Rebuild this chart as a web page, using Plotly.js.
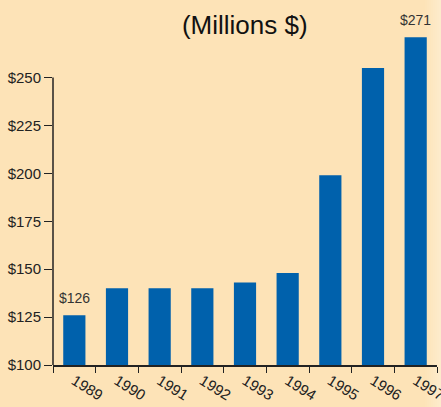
<!DOCTYPE html>
<html>
<head>
<meta charset="utf-8">
<script src="https://cdn.plot.ly/plotly-3.0.1.min.js"></script>
<style>html,body{margin:0;padding:0;background:#FDE3B7;}</style>
</head>
<body>
<div id="chart" style="width:441px;height:407px;"></div>
<script>
const years = ['1989','1990','1991','1992','1993','1994','1995','1996','1997'];
const values = [126, 140, 140, 140, 143, 148, 199, 255, 271];
const yTicks = [100, 125, 150, 175, 200, 225, 250];
const labelled = [0, values.length - 1];

const trace = {
  type: 'bar',
  x: years,
  y: values,
  marker: {color: '#0061AC'},
  hoverinfo: 'none'
};

const valueNotes = labelled.map(i => ({
  x: i, y: values[i], xref: 'x', yref: 'y',
  text: '$' + values[i], showarrow: false,
  yanchor: 'bottom', yshift: 7,
  font: {family: 'Liberation Sans, Arial, sans-serif', size: 14, color: '#333'}
}));

// light fade at the right edge of the picture
const fade = [];
const plotL = 53, plotW = 384;
for (let i = 0; i < 8; i++) {
  const px0 = 425 + i * 2;
  fade.push({
    type: 'rect', xref: 'paper', yref: 'paper', layer: 'below',
    x0: (px0 - plotL) / plotW, x1: (px0 + 2 - plotL) / plotW + (i === 7 ? 0.02 : 0),
    y0: -0.2, y1: 1.1,
    fillcolor: 'rgba(255,255,255,' + (0.04 + i * 0.035) + ')', line: {width: 0}
  });
}

const layout = {
  width: 441,
  height: 407,
  margin: {l: 53, r: 4, t: 20, b: 42},
  paper_bgcolor: '#FDE3B7',
  plot_bgcolor: 'rgba(0,0,0,0)',
  bargap: 0.48,
  showlegend: false,
  font: {family: 'Liberation Sans, Arial, sans-serif', color: '#222'},
  title: {
    text: '(Millions $)',
    font: {family: 'Liberation Sans, Arial, sans-serif', size: 26, color: '#111'},
    x: 0.555, xanchor: 'center',
    y: 0.938, yanchor: 'middle', yref: 'container'
  },
  xaxis: {
    type: 'category',
    range: [-0.5, years.length - 0.5],
    showline: true, linecolor: '#222', linewidth: 1.5,
    ticks: 'outside', ticklen: 6, tickcolor: '#222', tickwidth: 1,
    tickson: 'boundaries',
    tickangle: 32,
    tickfont: {size: 15, color: '#222'},
    showgrid: false, zeroline: false
  },
  yaxis: {
    range: [100, 280],
    tickvals: yTicks,
    ticktext: yTicks.map(v => '$' + v),
    showline: false,
    ticks: 'outside', ticklen: 8, tickcolor: '#222', tickwidth: 1,
    tickfont: {size: 15, color: '#222'},
    showgrid: false, zeroline: false
  },
  annotations: valueNotes,
  shapes: fade.concat([
    {type: 'line', xref: 'paper', yref: 'y', x0: 0, x1: 0, y0: 100, y1: 250,
     line: {color: '#222', width: 1.5}}
  ])
};

Plotly.newPlot('chart', [trace], layout, {displayModeBar: false, staticPlot: true});
</script>
</body>
</html>
